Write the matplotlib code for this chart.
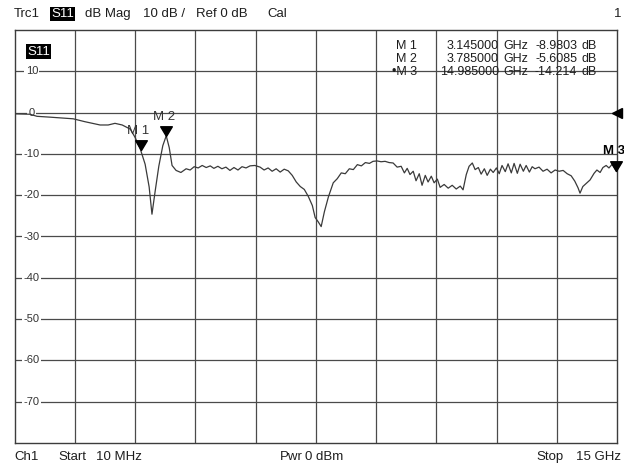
import matplotlib
matplotlib.use("Agg")
import matplotlib.pyplot as plt
from matplotlib.path import Path
import numpy as np

matplotlib.rcParams.update({
	"font.family": ["Liberation Sans", "DejaVu Sans"],
	"font.size": 9.5,
})

# S11 sweep, frequency in GHz and magnitude in dB
freq_ghz = [
	0.01, 0.40, 0.57, 0.89, 1.47, 1.76, 2.14, 2.34, 2.51, 2.69, 2.89, 3.01, 3.145,
	3.26, 3.36, 3.43, 3.51, 3.60, 3.70, 3.785, 3.86, 3.93, 4.03, 4.15,
	4.28, 4.38, 4.48, 4.58, 4.68, 4.78, 4.88, 4.97, 5.07, 5.17, 5.27, 5.37, 5.47,
	5.57, 5.67, 5.77, 5.87, 5.99, 6.12, 6.22, 6.32, 6.42, 6.52, 6.62, 6.72, 6.82,
	6.92, 7.02, 7.12, 7.22, 7.32, 7.42, 7.49, 7.57, 7.64, 7.72, 7.82, 7.94, 8.04,
	8.14, 8.24, 8.34, 8.44, 8.54, 8.64, 8.74, 8.84, 8.93, 9.03, 9.13, 9.23, 9.33,
	9.43, 9.53, 9.63, 9.71, 9.78, 9.85, 9.93, 10.00, 10.08, 10.15, 10.23, 10.30,
	10.38, 10.45, 10.53, 10.60, 10.70, 10.80, 10.90, 11.00, 11.10, 11.17, 11.25,
	11.32, 11.40, 11.47, 11.55, 11.62, 11.70, 11.77, 11.85, 11.92, 12.00, 12.07,
	12.14, 12.22, 12.29, 12.37, 12.44, 12.52, 12.59, 12.67, 12.74, 12.82, 12.89,
	12.96, 13.06, 13.16, 13.26, 13.36, 13.46, 13.56, 13.66, 13.76, 13.86, 13.95,
	14.03, 14.08, 14.15, 14.23, 14.33, 14.43, 14.50, 14.58, 14.65, 14.73, 14.80,
	14.88, 14.985,
]
s11_db = [
	-0.3, -0.4, -0.9, -1.1, -1.5, -2.2, -3.0, -3.0, -2.6, -3.0, -4.0, -6.0, -8.9803,
	-12.5, -18.0, -24.6, -19.0, -13.0, -8.0, -5.6085, -8.5, -12.8, -14.0, -14.5,
	-13.6, -13.9, -13.1, -13.4, -12.8, -13.3, -12.9, -13.5, -13.0, -13.6, -13.2, -14.0, -13.3,
	-13.9, -13.1, -13.4, -12.9, -12.8, -13.2, -13.9, -13.4, -14.2, -13.6, -14.4, -13.7, -14.1,
	-15.2, -16.8, -17.9, -18.6, -20.3, -22.5, -25.4, -26.5, -27.6, -24.0, -20.4, -17.0, -16.0,
	-14.6, -14.8, -13.6, -13.8, -12.6, -12.9, -12.1, -12.3, -11.8, -11.7, -11.9, -11.8, -12.1,
	-12.2, -13.2, -13.0, -14.6, -13.5, -15.0, -14.2, -16.5, -14.8, -17.6, -15.2, -16.8,
	-15.4, -17.0, -16.1, -18.1, -17.4, -18.3, -17.6, -18.5, -17.8, -18.7, -15.0,
	-13.0, -12.2, -13.8, -13.3, -14.9, -13.6, -15.2, -13.7, -14.5, -13.4, -14.8,
	-12.8, -14.3, -12.4, -14.6, -12.3, -14.7, -12.5, -14.2, -12.8, -14.4, -13.1,
	-13.6, -13.2, -14.2, -13.7, -14.6, -13.9, -14.2, -14.0, -14.8, -15.3, -16.6,
	-18.2, -19.5, -17.9, -17.2, -16.3, -14.7, -13.9, -14.5, -13.3, -12.8, -13.4,
	-12.5, -14.214,
]

marker_names = ["M 1", "M 2", "M 3"]
marker_freq = [3.145, 3.785, 14.985]
marker_db = [-8.9803, -5.6085, -14.214]
marker_freq_txt = ["3.145000", "3.785000", "14.985000"]
marker_db_txt = ["-8.9803", "-5.6085", "-14.214"]

f_start, f_stop = 0.01, 15.0
db_top, db_bottom = 20, -80
y_ticks = [10, 0, -10, -20, -30, -40, -50, -60, -70]

txt_col = "#1e1e1e"

fig = plt.figure(figsize=(6.24, 4.65), dpi=100)
ax = fig.add_axes([14.5 / 624, 1 - 443 / 465, 602.5 / 624, 413 / 465])
ax.set_xlim(f_start, f_stop)
ax.set_ylim(db_bottom, db_top)
ax.set_xticks([])
ax.set_yticks([])
for sp in ax.spines.values():
	sp.set_color("#3c3c3c")
	sp.set_linewidth(1.0)

grid_col = "#4a4a4a"
for fx in np.linspace(f_start, f_stop, 11)[1:-1]:
	ax.axvline(fx, color=grid_col, lw=0.9, zorder=1)
for yv in y_ticks:
	ax.axhline(yv, color=grid_col, lw=0.9, zorder=1)
	ax.text(0.44, yv, str(yv), ha="center", va="center", fontsize=8, color="#333333",
		zorder=2, bbox=dict(facecolor="white", edgecolor="none", pad=1.0))

ax.plot(freq_ghz, s11_db, color="#3a3a3a", lw=0.9, zorder=3)

# downward triangle with its tip at the marker point
tri = Path([(-0.6, 1.0), (0.6, 1.0), (0.0, 0.0), (-0.6, 1.0)],
	[Path.MOVETO, Path.LINETO, Path.LINETO, Path.CLOSEPOLY])
for i in range(3):
	ax.plot(marker_freq[i], marker_db[i], marker=tri, markersize=14, color="black",
		clip_on=False, zorder=5)
	if i == 2:
		ax.text(marker_freq[i] - 0.05, marker_db[i] + 5.0, marker_names[i], ha="center",
			va="center", fontweight="bold", color="black", clip_on=False)
	else:
		ax.text(marker_freq[i] - 0.05, marker_db[i] + 4.5, marker_names[i], ha="center",
			va="center", color="#333333")

# reference level arrow on the right edge
ax.plot(f_stop, 0, marker="<", markersize=7, color="black", clip_on=False, zorder=5)

# S11 tag inside the grid
ax.text(0.021, 0.962, "S11", transform=ax.transAxes, ha="left", va="top",
	color="white", bbox=dict(facecolor="black", edgecolor="none", pad=1.0))

# marker readout table
rows_y = [46, 59, 72]
for i, yy in enumerate(rows_y):
	yf = 1 - yy / 465
	nm = marker_names[i] if i < 2 else "\u2022" + marker_names[i]
	fig.text(417 / 624, yf, nm, ha="right", va="center", fontsize=9, color=txt_col)
	fig.text(499 / 624, yf, marker_freq_txt[i], ha="right", va="center", fontsize=9, color=txt_col)
	fig.text(503 / 624, yf, "GHz", ha="left", va="center", fontsize=9, color=txt_col)
	fig.text(577 / 624, yf, marker_db_txt[i], ha="right", va="center", fontsize=9, color=txt_col)
	fig.text(581 / 624, yf, "dB", ha="left", va="center", fontsize=9, color=txt_col)

# header line
hy = 1 - 14 / 465
fig.text(14 / 624, hy, "Trc1", ha="left", va="center", color=txt_col)
fig.text(51 / 624, hy, "S11", ha="left", va="center", color="white",
	bbox=dict(facecolor="black", edgecolor="none", pad=0.8))
fig.text(85 / 624, hy, "dB Mag", ha="left", va="center", color=txt_col)
fig.text(143 / 624, hy, "10 dB /", ha="left", va="center", color=txt_col)
fig.text(196 / 624, hy, "Ref 0 dB", ha="left", va="center", color=txt_col)
fig.text(267 / 624, hy, "Cal", ha="left", va="center", color=txt_col)
fig.text(621 / 624, hy, "1", ha="right", va="center", color=txt_col)

# footer line
fy = 1 - 457 / 465
fig.text(14 / 624, fy, "Ch1", ha="left", va="center", color=txt_col)
fig.text(58 / 624, fy, "Start", ha="left", va="center", color=txt_col)
fig.text(96 / 624, fy, "10 MHz", ha="left", va="center", color=txt_col)
fig.text(280 / 624, fy, "Pwr", ha="left", va="center", color=txt_col)
fig.text(305 / 624, fy, "0 dBm", ha="left", va="center", color=txt_col)
fig.text(536 / 624, fy, "Stop", ha="left", va="center", color=txt_col)
fig.text(621 / 624, fy, "15 GHz", ha="right", va="center", color=txt_col)

plt.savefig("out.png", dpi=100, facecolor="white")
plt.close()
